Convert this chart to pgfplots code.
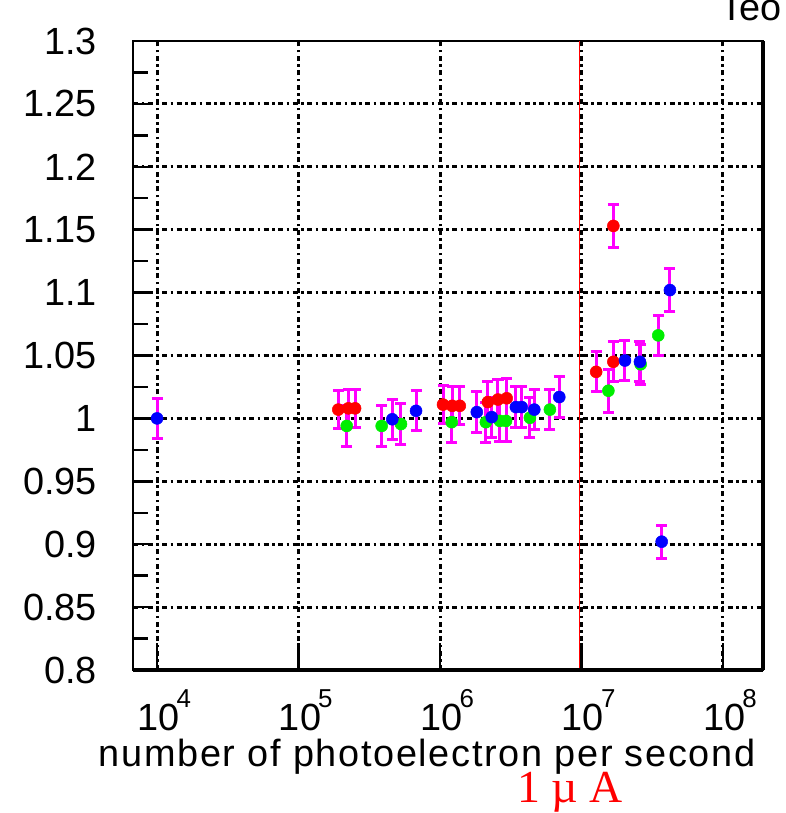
\documentclass[border=0pt]{standalone}
\usepackage{fontspec}
\setmainfont{Liberation Sans}
\newfontfamily\seriffont{Liberation Serif}
\usepackage{pgfplots}
\pgfplotsset{compat=1.18}
\definecolor{rootred}{HTML}{FF0000}
\definecolor{rootgreen}{HTML}{00EE00}
\definecolor{rootblue}{HTML}{0000FF}
\definecolor{rootmag}{HTML}{FF00FF}
\newcommand{\pw}[1]{10\kern-3bp\rlap{\raisebox{23bp}{\fontsize{26}{26}\selectfont #1}}}
\pgfplotsset{
  rootpts/.style={only marks, mark=*, mark size=6bp,
    mark options={fill=#1, draw=#1, line width=0.5bp},
    error bars/.cd, y dir=both, y explicit,
    error bar style={rootmag, line width=3bp},
    error mark options={rotate=90, rootmag, mark size=5.5bp, line width=3bp}}
}
\tikzset{rootgrid/.style={black, line width=3bp, dash pattern=on 5bp off 3.5bp on 2.5bp off 3.5bp}}
\begin{document}
\begin{tikzpicture}
\begin{axis}[name=ax, scale only axis, width=630bp, height=629bp,
  xmode=log, log basis x=10, xmin=6760, xmax=1.92e8, ymin=0.8, ymax=1.3,
  axis line style={line width=2bp},
  tick pos=left, tick align=inside,
  xtick={1e4,1e5,1e6,1e7,1e8},
  xticklabels={\pw{4},\pw{5},\pw{6},\pw{7},\pw{8}},
  ytick={0.8,0.85,0.9,0.95,1,1.05,1.1,1.15,1.2,1.25,1.3},
  yticklabels={0.8,0.85,0.9,0.95,1,1.05,1.1,1.15,1.2,1.25,1.3},
  minor y tick num=1,
  xtick style={line width=2.5bp, black, /pgfplots/major tick length=27bp, /pgfplots/minor tick length=13bp},
  ytick style={line width=2.5bp, black, /pgfplots/major tick length=20bp, /pgfplots/minor tick length=15bp},
  tick label style={font=\fontsize{38}{38}\selectfont, inner sep=0pt},
  xticklabel style={anchor=base, yshift=-60bp},
  yticklabel style={anchor=east, xshift=-36bp},
  clip=false,
]
% grid
\foreach \gx in {1e4,1e5,1e6,1e7,1e8} {
  \edef\temp{\noexpand\draw[rootgrid] (axis cs:\gx,0.8) -- (axis cs:\gx,1.3);}\temp
}
\foreach \gy in {0.85,0.9,0.95,1,1.05,1.1,1.15,1.2,1.25} {
  \edef\temp{\noexpand\draw[rootgrid] (axis cs:6760,\gy) -- (axis cs:1.92e8,\gy);}\temp
}
\addplot[rootred, line width=1.5bp, forget plot] coordinates {(9.7e6,0.8) (9.7e6,1.3)};

\addplot[rootpts=rootred] table[x=x, y=y, y error=e] {
x y e
1.91e5 1.007 0.015
2.25e5 1.008 0.015
2.51e5 1.008 0.015
1.05e6 1.011 0.015
1.22e6 1.010 0.015
1.38e6 1.010 0.015
2.18e6 1.013 0.016
2.57e6 1.015 0.016
2.96e6 1.016 0.016
1.27e7 1.037 0.016
1.68e7 1.045 0.016
1.68e7 1.153 0.017
};

\addplot[rootpts=rootgreen] table[x=x, y=y, y error=e] {
x y e
2.19e5 0.994 0.016
3.87e5 0.994 0.016
5.30e5 0.9955 0.016
1.21e6 0.997 0.016
2.11e6 0.997 0.016
2.65e6 0.998 0.016
2.93e6 0.998 0.016
4.32e6 1.0005 0.016
5.98e6 1.007 0.016
1.55e7 1.022 0.017
2.62e7 1.043 0.016
3.49e7 1.066 0.016
};

\addplot[rootpts=rootblue] table[x=x, y=y, y error=e] {
x y e
1.0e4 1.000 0.016
4.60e5 0.9993 0.016
6.77e5 1.006 0.016
1.82e6 1.005 0.016
2.32e6 1.001 0.016
3.44e6 1.009 0.016
3.78e6 1.009 0.016
4.64e6 1.007 0.016
6.97e6 1.017 0.016
2.03e7 1.046 0.016
2.59e7 1.045 0.016
4.22e7 1.102 0.017
3.69e7 0.902 0.013
};

\draw[line width=3.5bp] (rel axis cs:0,0) -- (rel axis cs:1,0);
\draw[line width=4.5bp] (rel axis cs:1,0) -- (rel axis cs:1,1);

\node[anchor=base, font=\fontsize{38}{38}\selectfont\addfontfeature{LetterSpace=4.4}]
  at (rel axis cs:0.4667,0) [yshift=-96bp] {number of photoelectron per second};
\node[anchor=base, text=rootred, font=\seriffont\fontsize{46}{46}\selectfont]
  at (rel axis cs:0.6937,0) [yshift=-132bp] {1 µ A};
\node[anchor=base west, font=\fontsize{38}{38}\selectfont]
  at (rel axis cs:0.927,1) [yshift=20bp] {Teo};
\end{axis}
\pgfresetboundingbox
\path[use as bounding box] ([shift={(-133bp,-143bp)}]ax.south west) rectangle ([shift={(23bp,41bp)}]ax.north east);
\end{tikzpicture}
\end{document}
